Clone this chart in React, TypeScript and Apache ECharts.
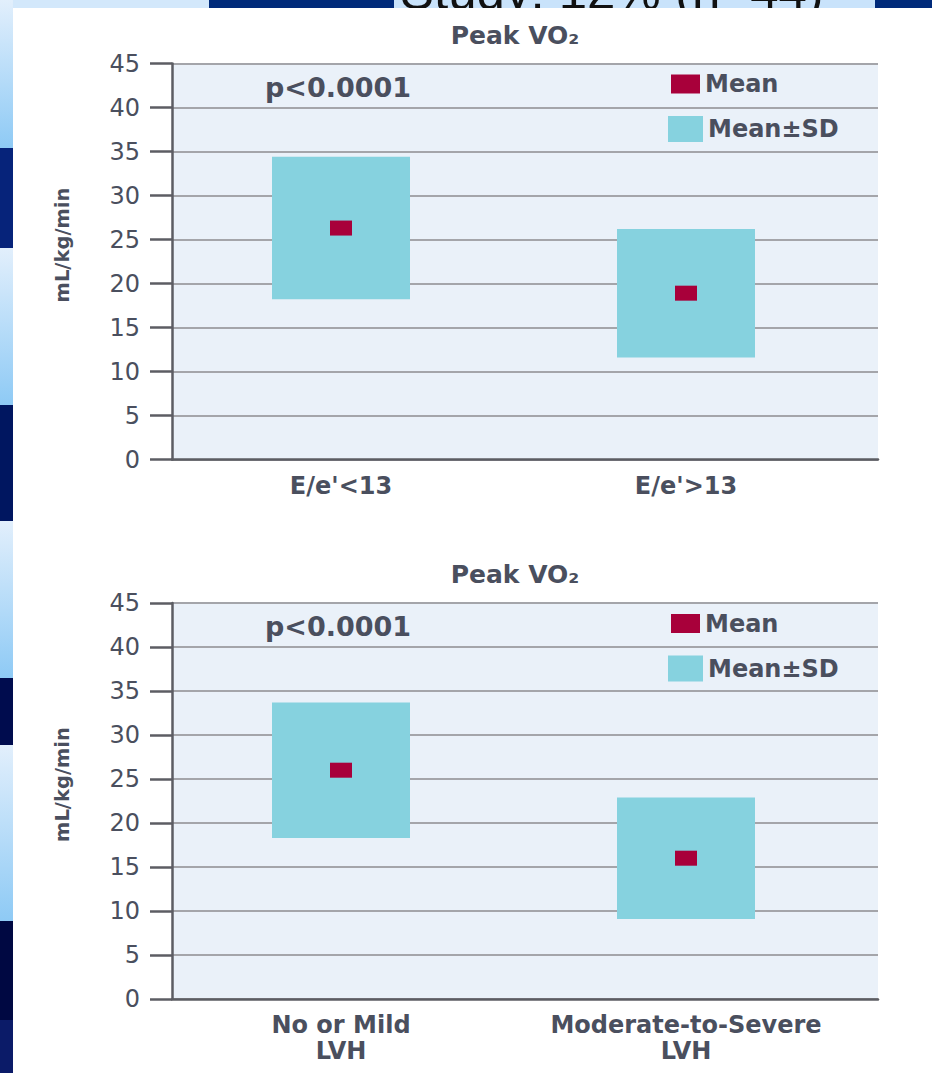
import React, { useEffect, useRef } from "react";
import * as echarts from "echarts";

// Peak VO2 by E/e' group (upper panel) and by LVH grade (lower panel)
const topCategories = ["E/e'<13", "E/e'>13"];
const topMean = [26.3, 18.9];
const topSD = [8.1, 7.3];

const bottomCategories = ["No or Mild\nLVH", "Moderate-to-Severe\nLVH"];
const bottomMean = [26.0, 16.0];
const bottomSD = [7.7, 6.9];

const yTicks = { min: 0, max: 45, interval: 5 };
const panelTitle = "Peak VO₂";
const pValueLabel = "p<0.0001";
const yAxisTitle = "mL/kg/min";
const legendMean = "Mean";
const legendSD = "Mean±SD";
const headerText = "Study: 12% (n=44)";

const TEAL = "#86d2df";
const CRIMSON = "#a8003a";
const TEXT = "#4a4f5e";
const FONT = "'DejaVu Sans', sans-serif";
const GRID_LINE = "#a4a5aa";
const AXIS_LINE = "#5c5d63";
const PLOT_BG = "#eaf1f9";

const PANEL_TOPS = [63.5, 603];
const PANEL_H = 396;

const textBase = { fontFamily: FONT, color: TEXT };

function boxRenderItem(params: any, api: any) {
  const idx = api.value(0);
  const mean = api.value(1);
  const sd = api.value(2);
  const top = api.coord([idx, mean + sd]);
  const bottom = api.coord([idx, mean - sd]);
  const w = api.size([1, 0])[0] * 0.4;
  return {
    type: "rect",
    shape: { x: top[0] - w / 2, y: top[1], width: w, height: bottom[1] - top[1] },
    style: { fill: TEAL },
  };
}

function buildOption() {
  const panels = [
    { cats: topCategories, mean: topMean, sd: topSD },
    { cats: bottomCategories, mean: bottomMean, sd: bottomSD },
  ];

  const grid: any[] = [];
  const xAxis: any[] = [];
  const yAxis: any[] = [];
  const series: any[] = [];
  const legend: any[] = [];
  const graphic: any[] = [];

  // slide backdrop: tiled strip on the left, banner along the top
  const leftTiles = [
    [0, 148, "light"],
    [148, 248, "#06237a"],
    [248, 405, "light"],
    [405, 521, "#001660"],
    [521, 678, "light"],
    [678, 745, "#000c4e"],
    [745, 921, "light"],
    [921, 1020, "#000842"],
    [1020, 1073, "#0b1b68"],
  ] as const;
  leftTiles.forEach(([y0, y1, c]) => {
    graphic.push({
      type: "rect",
      z: -5,
      shape: { x: 0, y: y0, width: 13, height: y1 - y0 },
      style: {
        fill:
          c === "light"
            ? new echarts.graphic.LinearGradient(0, 0, 0, 1, [
                { offset: 0, color: "#e2effc" },
                { offset: 1, color: "#8ecaf5" },
              ])
            : c,
      },
    });
  });
  graphic.push(
    { type: "rect", z: -5, shape: { x: 13, y: 0, width: 196, height: 8 }, style: { fill: "#d3e8fb" } },
    { type: "rect", z: -5, shape: { x: 209, y: 0, width: 185, height: 8 }, style: { fill: "#002a7a" } },
    { type: "rect", z: -5, shape: { x: 394, y: 0, width: 481, height: 8 }, style: { fill: "#c9e3fb" } },
    { type: "rect", z: -5, shape: { x: 875, y: 0, width: 57, height: 8 }, style: { fill: "#002a7a" } },
    {
      // banner caption, mostly hidden behind the white slide area
      type: "group",
      z: -4,
      clipPath: { type: "rect", shape: { x: 394, y: 0, width: 481, height: 8 } },
      children: [
        {
          type: "text",
          x: 400,
          y: 17,
          style: { text: headerText, fontFamily: "'Liberation Sans', sans-serif", fontSize: 51, fill: "#111", align: "left", verticalAlign: "bottom" },
        },
      ],
    }
  );

  panels.forEach((p, k) => {
    const top = PANEL_TOPS[k];
    const gBg = k * 2;
    const gData = k * 2 + 1;
    grid.push(
      { left: 172, top, width: 706, height: PANEL_H, show: true, backgroundColor: PLOT_BG, borderWidth: 0 },
      { left: 168.5, top, width: 690, height: PANEL_H }
    );
    xAxis.push(
      {
        gridIndex: gBg,
        type: "category",
        data: p.cats,
        axisLine: { show: true, lineStyle: { color: AXIS_LINE, width: 2.5 } },
        axisTick: { show: false },
        axisLabel: { show: false },
        splitLine: { show: false },
      },
      {
        gridIndex: gData,
        type: "category",
        data: p.cats,
        axisLine: { show: false },
        axisTick: { show: false },
        splitLine: { show: false },
        axisLabel: { ...textBase, fontSize: 24, fontWeight: "bold", margin: 13, lineHeight: 26, interval: 0 },
      }
    );
    yAxis.push(
      {
        gridIndex: gBg,
        type: "value",
        ...yTicks,
        axisLine: { show: true, onZero: false, lineStyle: { color: AXIS_LINE, width: 2.5 } },
        axisTick: { show: true, length: 22, lineStyle: { color: AXIS_LINE, width: 2.5 } },
        axisLabel: { ...textBase, fontSize: 24, margin: 32 },
        splitLine: { show: true, lineStyle: { color: GRID_LINE, width: 2 } },
      },
      { gridIndex: gData, type: "value", ...yTicks, show: false, splitLine: { show: false } }
    );
    series.push(
      {
        type: "custom",
        name: legendSD,
        xAxisIndex: gData,
        yAxisIndex: gData,
        itemStyle: { color: TEAL },
        renderItem: boxRenderItem,
        encode: { x: 0, y: 1 },
        data: p.mean.map((m, i) => [i, m, p.sd[i]]),
        z: 2,
      },
      {
        type: "scatter",
        name: legendMean,
        xAxisIndex: gData,
        yAxisIndex: gData,
        symbol: "rect",
        symbolSize: [22, 15],
        itemStyle: { color: CRIMSON, opacity: 1 },
        data: p.mean.map((m, i) => [i, m]),
        z: 3,
      }
    );

    const dy = top - PANEL_TOPS[0];
    const legendText = { ...textBase, fontSize: 24, fontWeight: "bold" };
    legend.push(
      { data: [legendMean], left: 671, top: 72 + dy, itemWidth: 29, itemHeight: 19, icon: "rect", padding: 0, textStyle: legendText, selectedMode: false, itemStyle: { opacity: 1 } },
      { data: [legendSD], left: 668, top: 116 + dy, itemWidth: 35, itemHeight: 26, icon: "rect", padding: 0, textStyle: legendText, selectedMode: false }
    );

    graphic.push(
      {
        type: "text",
        x: 515,
        y: 35 + dy,
        style: { text: panelTitle, fontFamily: FONT, fontSize: 25, fontWeight: "bold", fill: TEXT, align: "center", verticalAlign: "middle" },
      },
      {
        type: "text",
        x: 265,
        y: 87 + dy,
        style: { text: pValueLabel, fontFamily: FONT, fontSize: 27, fontWeight: "bold", fill: TEXT, align: "left", verticalAlign: "middle" },
      },
      {
        type: "text",
        x: 62,
        y: 245 + dy,
        rotation: Math.PI / 2,
        style: { text: yAxisTitle, fontFamily: FONT, fontSize: 19.5, fontWeight: "bold", fill: TEXT, align: "center", verticalAlign: "middle" },
      }
    );
  });

  return {
    animation: false,
    backgroundColor: "#ffffff",
    grid,
    xAxis,
    yAxis,
    legend,
    series,
    graphic: { elements: graphic },
  };
}

export default function App() {
  const ref = useRef<HTMLDivElement>(null);
  useEffect(() => {
    if (!ref.current) return;
    const chart = echarts.init(ref.current, undefined, { renderer: "svg" });
    chart.setOption(buildOption() as any);
    return () => chart.dispose();
  }, []);
  return <div ref={ref} style={{ position: "fixed", left: 0, top: 0, width: 932, height: 1073 }} />;
}
